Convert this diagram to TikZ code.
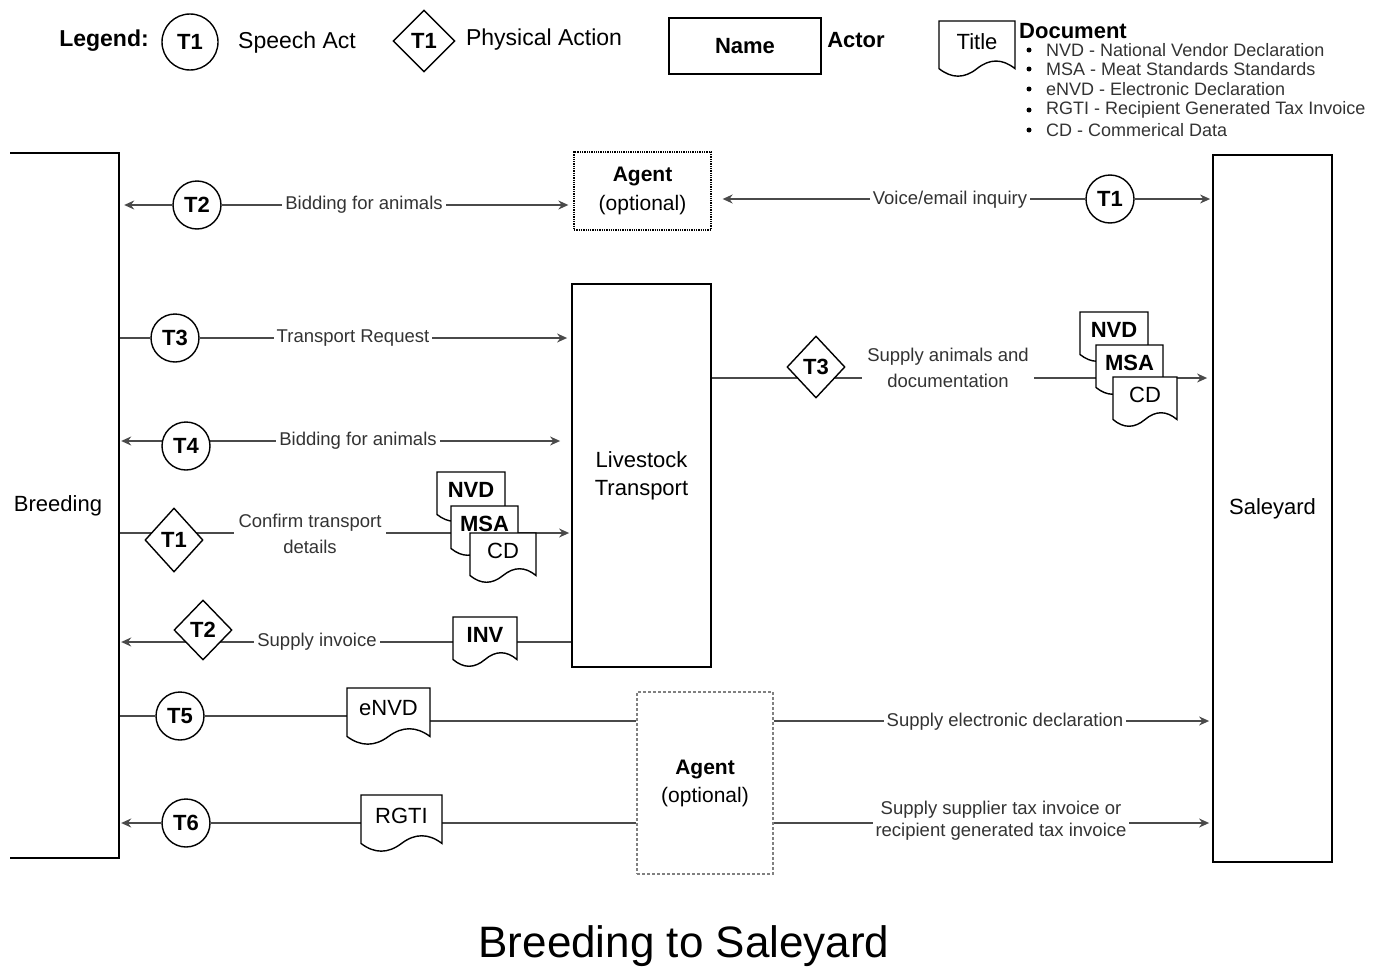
\documentclass[tikz,border=0pt]{standalone}
\usepackage{fontspec}
\setmainfont{Liberation Sans}
\usetikzlibrary{arrows.meta,shapes.geometric}
\pgfdeclarelayer{background}
\pgfsetlayers{background,main}

\definecolor{linegray}{HTML}{4A4A4A}
\definecolor{labelgray}{HTML}{333333}

\newcommand{\fs}[1]{\fontsize{#1}{#1}\selectfont}

% document symbol: rectangle with a wavy lower edge
% #1 name, #2 left, #3 top, #4 width, #5 height, #6 font, #7 text
\newcommand{\docshape}[7]{%
  \path[docline]
    (#2,#3) -- ({#2+#4},#3) -- ({#2+#4},{#3+0.85*#5})
    .. controls ({#2+0.8333*#4},{#3+0.67*#5}) and ({#2+0.6667*#4},{#3+0.67*#5}) ..
    ({#2+0.5*#4},{#3+0.85*#5})
    .. controls ({#2+0.3333*#4},{#3+1.03*#5}) and ({#2+0.1667*#4},{#3+1.03*#5}) ..
    (#2,{#3+0.85*#5}) -- cycle;
  \node[doctext,font=#6] (#1) at ({#2+0.5*#4},{#3+0.36*#5}) {#7};
}

\tikzset{
  actor/.style={draw=black, line width=1.8pt, fill=white, inner sep=0pt, align=center, font=\fs{22}},
  conn/.style={draw=linegray, line width=1.3pt},
  arr/.style={conn, -{Stealth[length=10pt,width=9pt]}},
  speech/.style={circle, draw=black, line width=1.4pt, fill=white, minimum size=48pt, inner sep=0pt, font=\bfseries\fs{22}},
  phys/.style={diamond, draw=black, line width=1.4pt, fill=white, minimum width=58pt, minimum height=62pt, inner sep=0pt, font=\bfseries\fs{22}},
  lbl/.style={fill=white, inner xsep=3pt, inner ysep=1pt, align=center, font=\fontsize{18.5}{26}\selectfont, text=labelgray},
  docline/.style={draw=black, line width=1.4pt, fill=white},
  doctext/.style={inner sep=0pt},
  plain/.style={inner sep=0pt},
  dot/.style={circle, fill=black, minimum size=5pt, inner sep=0pt},
}

\begin{document}
\begin{tikzpicture}[x=1pt,y=-1pt]
\useasboundingbox (0,0) rectangle (1379,969);

% ---------- legend ----------
\node[plain, font=\bfseries\fs{23}] (lg) at (104,41) {Legend:};
\node[speech, minimum size=56pt] (lgs) at (190,42) {T1};
\node[plain, font=\fs{23}] (lgst) at (297,43) {Speech Act};
\node[phys, minimum width=62pt, minimum height=62pt] (lgp) at (424,41) {T1};
\node[plain, font=\fs{23}] (lgpt) at (544,40) {Physical Action};
\node[actor, minimum width=152pt, minimum height=56pt, font=\bfseries\fs{22}] (lgn) at (745,46) {Name};
\node[plain, font=\bfseries\fs{22}] (lga) at (856,40) {Actor};
\docshape{lgd}{939}{21}{76}{56}{\fs{22}}{Title}
\node[plain, anchor=base west, font=\bfseries\fs{22}] (lgdt) at (1019,38) {Document};
\foreach \yy/\txt [count=\i] in {50/NVD - National Vendor Declaration,
                                 69/MSA - Meat Standards Standards,
                                 89/eNVD - Electronic Declaration,
                                 110/RGTI - Recipient Generated Tax Invoice,
                                 130/CD - Commerical Data}{
  \node[dot] (bul\i) at (1029,\yy) {};
  \node[plain, anchor=west, font=\fs{18}, text=labelgray] (item\i) at (1046,\yy) {\txt};
}

% ---------- actors ----------
\node[plain, minimum width=122pt, minimum height=705pt, font=\fs{22}] (breed) at (58,505.5) {Breeding};
\draw[line width=1.8pt] ([xshift=-109pt]breed.north east) -- (breed.north east)
  -- (breed.south east) -- ([xshift=-109pt]breed.south east);
\node[actor, minimum width=119pt, minimum height=707pt] (sale) at (1272.5,508.5) {Saleyard};
\node[actor, minimum width=139pt, minimum height=383pt, font=\fontsize{22}{28}\selectfont] (lt) at (641.5,475.5) {Livestock\\Transport};
\node[actor, line width=1.3pt, densely dotted, minimum width=137pt, minimum height=78pt,
      font=\fontsize{21}{29}\selectfont] (agt) at (642.5,191) {{\bfseries Agent}\\(optional)};
\node[actor, draw=gray, line width=1.2pt, dash pattern=on 3pt off 2pt, minimum width=136pt, minimum height=182pt,
      font=\fontsize{21}{28}\selectfont] (agb) at (705,783) {{\bfseries Agent}\\(optional)};

% ---------- acts ----------
\node[speech] (t2a) at (197,205) {T2};
\node[speech] (t1a) at (1110,199) {T1};
\node[speech] (t3a) at (175,338) {T3};
\node[speech] (t4a) at (186,446) {T4};
\node[phys, minimum height=64pt] (t1b) at (174,540) {T1};
\node[phys, minimum height=60pt] (t2b) at (203,630) {T2};
\node[speech] (t5a) at (180,716) {T5};
\node[speech] (t6a) at (186,823) {T6};
\node[phys] (t3b) at (816,367) {T3};

% ---------- labels ----------
\node[lbl] (l1) at (364,205) {Bidding for animals};
\node[lbl] (l2) at (950,200) {Voice/email inquiry};
\node[lbl] (l3) at (353,338) {Transport Request};
\node[lbl] (l4) at (358,441) {Bidding for animals};
\node[lbl, inner xsep=5pt] (l5) at (310,534) {Confirm transport\\details};
\node[lbl] (l6) at (317,642) {Supply invoice};
\node[lbl, inner xsep=5pt] (l7) at (948,368) {Supply animals and\\documentation};
\node[lbl] (l8) at (1005,722) {Supply electronic declaration};
\node[lbl, font=\fontsize{18.5}{22}\selectfont] (l9) at (1001,821) {Supply supplier tax invoice or\\recipient generated tax invoice};

% ---------- documents ----------
\docshape{nvda}{437}{472}{68}{50}{\bfseries\fs{22}}{NVD}
\docshape{msaa}{451}{506}{67}{50}{\bfseries\fs{22}}{MSA}
\docshape{cda}{470}{533}{66}{50}{\fs{22}}{CD}
\docshape{inv}{453}{617}{64}{50}{\bfseries\fs{22}}{INV}
\docshape{nvdb}{1080}{312}{68}{50}{\bfseries\fs{22}}{NVD}
\docshape{msab}{1096}{345}{67}{50}{\bfseries\fs{22}}{MSA}
\docshape{cdb}{1113}{377}{64}{50}{\fs{22}}{CD}
\docshape{envd}{347}{688}{83}{57}{\fs{22}}{eNVD}
\docshape{rgti}{361}{795}{81}{57}{\fs{22}}{RGTI}

% ---------- title ----------
\node[plain, anchor=base, font=\fs{44}] (ttl) at (684,957) {Breeding to Saleyard};

% ---------- connectors ----------
\coordinate (r3) at (0,441);
\coordinate (r4) at (0,533);
\coordinate (r5) at (0,642);
\coordinate (r6) at (0,721);
\coordinate (r8) at (0,378);
\begin{pgfonlayer}{background}
  % Breeding <-> Agent, Agent <-> Saleyard
  \draw[arr, shorten >=5pt] (t2a) -- (breed.east |- t2a);
  \draw[arr, shorten >=5pt] (t2a) -- (agt.west |- t2a);
  \draw[arr, shorten >=11pt] (t1a) -- (agt.east |- t1a);
  \draw[arr, shorten >=2pt] (t1a) -- (sale.west |- t1a);
  % transport request
  \draw[conn] (breed.east |- t3a) -- (t3a);
  \draw[arr, shorten >=4pt] (t3a) -- (lt.west |- t3a);
  % bidding with transport
  \draw[arr, shorten >=2pt] (t4a.center |- r3) -- (breed.east |- r3);
  \draw[arr, shorten >=11pt] (t4a.center |- r3) -- (lt.west |- r3);
  % confirm transport details
  \draw[conn] (breed.east |- r4) -- (t1b.center |- r4);
  \draw[arr, shorten >=2pt] (t1b.center |- r4) -- (nvda.center |- r4) -- (lt.west |- r4);
  % supply invoice
  \draw[conn] (lt.west |- r5) -- (inv.center |- r5) -- (t2b.center |- r5);
  \draw[arr, shorten >=2pt] (t2b.center |- r5) -- (breed.east |- r5);
  % supply animals and documentation
  \draw[conn] (lt.east |- r8) -- (t3b.center |- r8);
  \draw[arr, shorten >=5pt] (t3b.center |- r8) -- (msab.center |- r8) -- (sale.west |- r8);
  % electronic declaration
  \draw[conn] (breed.east |- t5a) -- (t5a) -- (envd.center |- t5a);
  \draw[conn] (envd.center |- r6) -- (agb.west |- r6);
  \draw[arr, shorten >=3pt] (agb.east |- r6) -- (sale.west |- r6);
  % tax invoice
  \draw[arr, shorten >=2pt] (t6a) -- (breed.east |- t6a);
  \draw[conn] (t6a) -- (rgti.center |- t6a) -- (agb.west |- t6a);
  \draw[arr, shorten >=3pt] (agb.east |- t6a) -- (sale.west |- t6a);
\end{pgfonlayer}
\end{tikzpicture}
\end{document}
